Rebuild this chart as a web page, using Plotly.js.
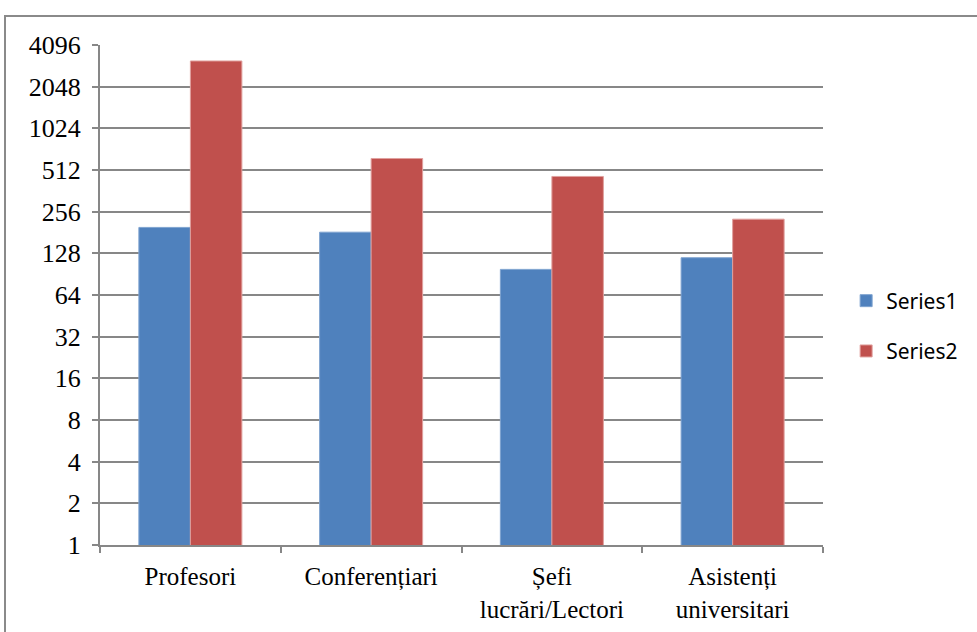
<!DOCTYPE html>
<html>
<head>
<meta charset="utf-8">
<script src="https://cdn.plot.ly/plotly-3.0.1.min.js"></script>
<style>
html,body{margin:0;padding:0;background:#fff;}
#wrap{position:relative;width:977px;height:632px;}
#chart{position:absolute;left:0;top:0;width:977px;height:632px;}
#frame{position:absolute;left:4px;top:15px;width:990px;height:640px;border:2px solid #8a8a8a;box-sizing:border-box;pointer-events:none;}
</style>
</head>
<body>
<div id="wrap"><div id="chart"></div><div id="frame"></div></div>
<script>
const categories = ["Profesori", "Conferențiari", "Șefi<br>lucrări/Lectori", "Asistenți<br>universitari"];
const series1 = [197, 182, 98, 119];
const series2 = [3140, 620, 460, 226];
const tickValues = [1, 2, 4, 8, 16, 32, 64, 128, 256, 512, 1024, 2048, 4096];
const tickLabels = ["1", "2", "4", "8", "16", "32", "64", "128", "256", "512", "1024", "2048", "4096"];

const data = [
  {type: "bar", name: "Series1", x: categories, y: series1, marker: {color: "#4f81bd", line: {color: "#7fa3d0", width: 1}}, legendgroup: "a"},
  {type: "bar", name: "Series2", x: categories, y: series2, marker: {color: "#c0504d", line: {color: "#e0a09e", width: 1}}, legendgroup: "b"}
];

const layout = {
  width: 977, height: 632,
  margin: {l: 100, r: 154, t: 45, b: 87},
  paper_bgcolor: "#fff", plot_bgcolor: "#fff",
  barmode: "group", bargap: 0.43, bargroupgap: 0,
  showlegend: true,
  legend: {x: 1.032, y: 0.438, xanchor: "left", yanchor: "middle", font: {family: "Noto Sans", size: 21, color: "#000"}, tracegroupgap: 20, traceorder: "grouped", bgcolor: "rgba(0,0,0,0)", itemwidth: 30},
  xaxis: {
    type: "category", showgrid: false, showline: true, linecolor: "#878787", linewidth: 2,
    ticks: "outside", ticklen: 6, tickcolor: "#878787", tickwidth: 2, tickson: "boundaries",
    tickfont: {family: "Liberation Serif", size: 25, color: "#000"}, ticklabelstandoff: 8
  },
  yaxis: {
    type: "log", range: [0, Math.log10(4096)],
    tickmode: "array", tickvals: tickValues, ticktext: tickLabels,
    showgrid: true, gridcolor: "#878787", gridwidth: 2,
    showline: true, linecolor: "#878787", linewidth: 2,
    ticks: "outside", ticklen: 6, tickcolor: "#878787", tickwidth: 2,
    tickfont: {family: "Liberation Serif", size: 26, color: "#000"}, ticklabelstandoff: 6,
    zeroline: false
  }
};

Plotly.newPlot("chart", data, layout, {displayModeBar: false, staticPlot: true});
</script>
</body>
</html>
